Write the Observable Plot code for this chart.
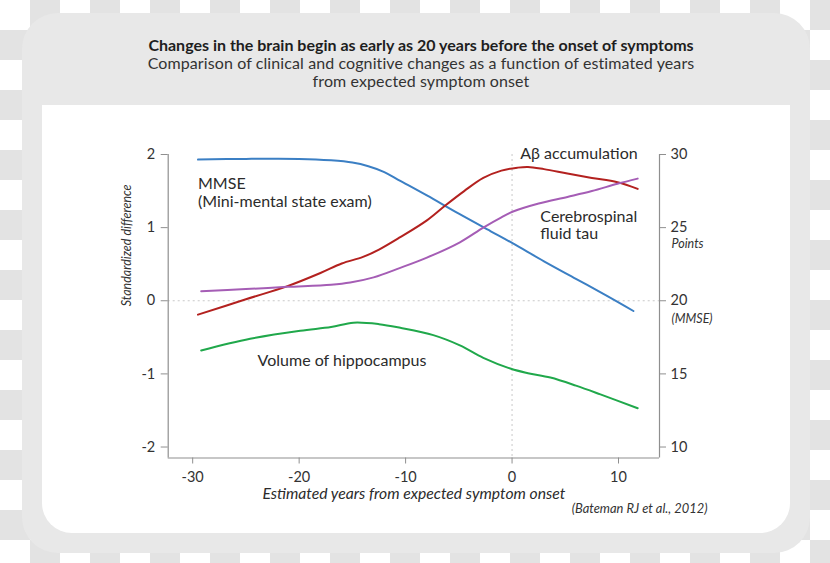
<!DOCTYPE html>
<html>
<head>
<meta charset="utf-8">
<script src="https://cdn.jsdelivr.net/npm/d3@7"></script>
<script src="https://cdn.jsdelivr.net/npm/@observablehq/plot@0.6"></script>
<style>
  html, body { margin: 0; padding: 0; }
  body { width: 830px; height: 563px; overflow: hidden; position: relative;
    background: repeating-conic-gradient(#e3e3e3 0 25%, #ffffff 0 50%) 0 0 / 60px 60px;
    font-family: Lato, "Open Sans", sans-serif; }
  #card { position: absolute; left: 22px; top: 13px; width: 788px; height: 540px;
    background: #e8e8e8; border-radius: 36px; }
  #panel { position: absolute; left: 42px; top: 105px; width: 748px; height: 428px;
    background: #ffffff; border-radius: 0 0 30px 30px; }
  #titles { position: absolute; left: 22px; top: 35px; width: 798px; text-align: center; color: #222; }
  #titles .t { font-weight: 700; font-size: 16px; line-height: 19px; color: #1e1e1e; }
  #titles .s { font-weight: 400; font-size: 16px; line-height: 17.5px; color: #333; letter-spacing: 0.1px; }
  #chart { position: absolute; left: 42px; top: 105px; }
</style>
</head>
<body>
<div id="card"></div>
<div id="panel"></div>
<div id="titles">
  <div class="t">Changes in the brain begin as early as 20 years before the onset of symptoms</div>
  <div class="s">Comparison of clinical and cognitive changes as a function of estimated years<br>from expected symptom onset</div>
</div>
<div id="chart"></div>
<script>
// ---- Data ----
const mmseYears = [-29.5, -25, -20, -17, -15, -13.5, -12, -10.5, -8, -5, -2, 0, 3, 6, 9, 11.4];
const mmseValues = [1.93, 1.94, 1.94, 1.92, 1.89, 1.84, 1.76, 1.64, 1.44, 1.19, 0.95, 0.79, 0.54, 0.30, 0.06, -0.14];

const abetaYears = [-29.5, -25, -21.1, -18, -16, -14, -12.5, -10.5, -8, -6.3, -4.5, -2.7, -1, 0.5, 1.5, 3, 5.2, 7.5, 9.9, 11.8];
const abetaValues = [-0.19, 0.02, 0.20, 0.38, 0.51, 0.60, 0.70, 0.87, 1.10, 1.30, 1.50, 1.68, 1.78, 1.82, 1.83, 1.80, 1.74, 1.68, 1.62, 1.53];

const tauYears = [-29.2, -25, -21.1, -17, -15.2, -13, -10.5, -8, -4.9, -2.7, -1, 0.1, 2.5, 5.2, 7.5, 9.9, 11.8];
const tauValues = [0.13, 0.16, 0.19, 0.22, 0.25, 0.32, 0.45, 0.59, 0.80, 1.00, 1.14, 1.22, 1.33, 1.42, 1.50, 1.60, 1.67];

const hippoYears = [-29.2, -24.6, -19.9, -17, -14.9, -12.5, -10.5, -7.4, -4.9, -2.7, -0.1, 1.5, 3.6, 6, 8.3, 11.8];
const hippoValues = [-0.68, -0.52, -0.41, -0.36, -0.30, -0.32, -0.37, -0.47, -0.61, -0.78, -0.93, -0.99, -1.05, -1.16, -1.28, -1.47];

const xTicks = [-30, -20, -10, 0, 10];
const yTicks = [-2, -1, 0, 1, 2];
const rightTickLabels = ["10", "15", "20", "25", "30"];

const seriesNames = ["MMSE", "Abeta", "Tau", "Hippocampus"];
const seriesColors = ["#3b7fc4", "#b3211f", "#a55db5", "#20a84b"];

const labelsStart = [
  {text: "MMSE", x: -29.5, y: 1.595},
  {text: "(Mini-mental state exam)", x: -29.5, y: 1.355},
  {text: "Cerebrospinal", x: 2.66, y: 1.145},
  {text: "fluid tau", x: 2.66, y: 0.91},
  {text: "Volume of hippocampus", x: -23.9, y: -0.82}
];
const labelsEnd = [
  {text: "A\u03b2 accumulation", x: 11.8, y: 2.01}
];
const rightNotes = [
  {text: "Points", y: 0.78},
  {text: "(MMSE)", y: -0.25}
];

// ---- Build table ----
const rows = [];
[[mmseYears, mmseValues], [abetaYears, abetaValues], [tauYears, tauValues], [hippoYears, hippoValues]]
  .forEach(([xs, ys], i) => xs.forEach((x, j) => rows.push({series: seriesNames[i], x, y: ys[j]})));

const xDomain = [-32.3, 13.85];
const yDomain = [-2.15, 2];
const axisGray = "#8f8f8f";

const chart = Plot.plot({
  width: 748,
  height: 428,
  marginLeft: 125.7,
  marginRight: 131,
  marginTop: 49,
  marginBottom: 75.5,
  style: {fontFamily: "Lato, sans-serif", fontSize: "14px", background: "transparent", color: "#333"},
  x: {domain: xDomain},
  y: {domain: yDomain},
  color: {domain: seriesNames, range: seriesColors},
  marks: [
    Plot.ruleY([0], {stroke: "#c8c8c8", strokeDasharray: "2,3"}),
    Plot.ruleX([0], {stroke: "#c8c8c8", strokeDasharray: "2,3"}),
    Plot.ruleX([xDomain[0], xDomain[1]], {stroke: axisGray, strokeWidth: 1.2}),
    Plot.ruleY([yDomain[0]], {stroke: axisGray, strokeWidth: 1.2}),
    Plot.axisY({anchor: "left", ticks: yTicks, tickFormat: d => String(d), tickSize: 7, tickPadding: 6,
      label: null, stroke: axisGray, fill: "#333", fontSize: 14.5}),
    Plot.axisY({anchor: "right", ticks: yTicks, tickFormat: d => rightTickLabels[yTicks.indexOf(d)],
      tickSize: 6, tickPadding: 5, label: null, stroke: axisGray, fill: "#333", fontSize: 14.5}),
    Plot.axisX({ticks: xTicks, tickFormat: d => String(d), tickSize: 6, tickPadding: 7.5,
      label: null, stroke: axisGray, fill: "#333", fontSize: 14.5}),
    Plot.line(rows, {x: "x", y: "y", z: "series", stroke: "series", strokeWidth: 2, curve: "catmull-rom"}),
    Plot.text(labelsStart, {x: "x", y: "y", text: "text", textAnchor: "start", fontSize: 16, fill: "#2b2b2b"}),
    Plot.text(labelsEnd, {x: "x", y: "y", text: "text", textAnchor: "end", fontSize: 16, fill: "#2b2b2b"}),
    Plot.text(rightNotes, {x: xDomain[1], y: "y", text: "text", dx: 12, textAnchor: "start",
      fontSize: 12.5, fontStyle: "italic", fill: "#333"}),
    Plot.text(["Standardized difference"], {text: d => d, frameAnchor: "left", rotate: -90, dx: -41,
      fontSize: 12.5, fontStyle: "italic", fill: "#333"}),
    Plot.text(["Estimated years from expected symptom onset"], {text: d => d, frameAnchor: "bottom",
      lineAnchor: "middle", dy: 35.5, fontSize: 15.7, fontStyle: "italic", fill: "#2b2b2b"}),
    Plot.text(["(Bateman RJ et al., 2012)"], {text: d => d, frameAnchor: "bottom-right", lineAnchor: "middle",
      dx: 48, dy: 51, textAnchor: "end", fontSize: 12.9, fontStyle: "italic", fill: "#333"})
  ]
});
document.getElementById("chart").appendChild(chart);
</script>
</body>
</html>
